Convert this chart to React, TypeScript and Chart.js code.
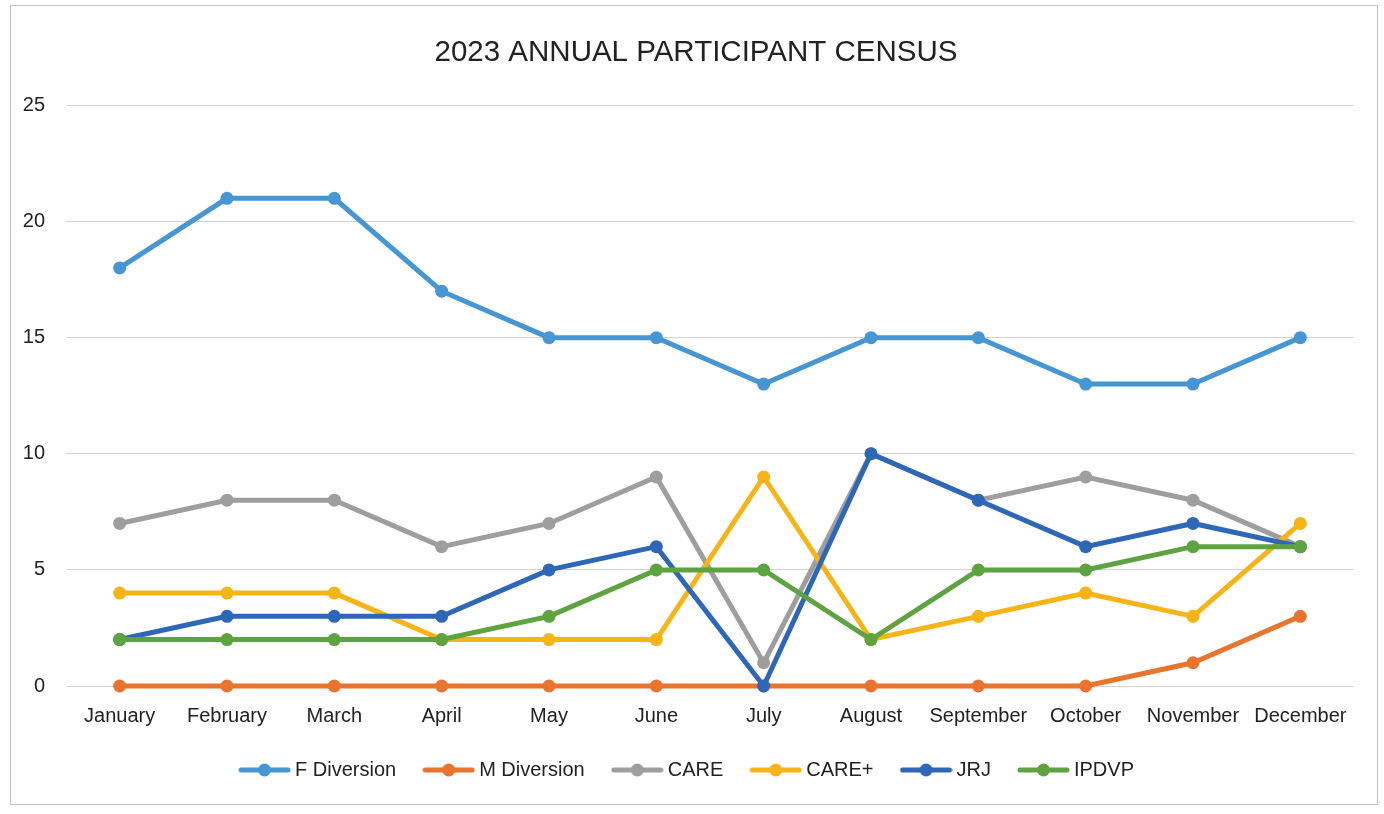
import React, { useEffect, useRef } from "react";
import { Chart, registerables } from "chart.js";

Chart.register(...registerables);

const months = ["January", "February", "March", "April", "May", "June", "July", "August", "September", "October", "November", "December"];
const fDiversion = [18, 21, 21, 17, 15, 15, 13, 15, 15, 13, 13, 15];
const mDiversion = [0, 0, 0, 0, 0, 0, 0, 0, 0, 0, 1, 3];
const care = [7, 8, 8, 6, 7, 9, 1, 10, 8, 9, 8, 6];
const carePlus = [4, 4, 4, 2, 2, 2, 9, 2, 3, 4, 3, 7];
const jrj = [2, 3, 3, 3, 5, 6, 0, 10, 8, 6, 7, 6];
const ipdvp = [2, 2, 2, 2, 3, 5, 5, 2, 5, 5, 6, 6];

const seriesNames = ["F Diversion", "M Diversion", "CARE", "CARE+", "JRJ", "IPDVP"];
const seriesData = [fDiversion, mDiversion, care, carePlus, jrj, ipdvp];
const seriesColors = ["#4596D3", "#E8742E", "#9E9E9E", "#F7B417", "#2F67B8", "#5DA440"];

const FONT = "'Liberation Sans', Arial, sans-serif";

function legendIcon(color: string): HTMLCanvasElement {
  const c = document.createElement("canvas");
  c.width = 53;
  c.height = 16;
  const ctx = c.getContext("2d")!;
  ctx.strokeStyle = color;
  ctx.lineWidth = 5;
  ctx.lineCap = "round";
  ctx.beginPath();
  ctx.moveTo(3, 8);
  ctx.lineTo(50, 8);
  ctx.stroke();
  ctx.fillStyle = color;
  ctx.beginPath();
  ctx.arc(26.5, 8, 6.5, 0, Math.PI * 2);
  ctx.fill();
  return c;
}

const shiftBlocks = {
  id: "shiftBlocks",
  afterLayout(chart: any) {
    if (chart.titleBlock) chart.titleBlock.left = 26;
    if (chart.legend) chart.legend.left += 12;
  },
};

export default function App() {
  const ref = useRef<HTMLCanvasElement | null>(null);
  useEffect(() => {
    if (!ref.current) return;
    const icons = seriesColors.map(legendIcon);
    const chart = new Chart(ref.current, {
      type: "line",
      data: {
        labels: months,
        datasets: seriesNames.map((name, i) => ({
          label: name,
          data: seriesData[i],
          borderColor: seriesColors[i],
          backgroundColor: seriesColors[i],
          borderWidth: 5,
          pointRadius: 6.5,
          pointHoverRadius: 6.5,
          pointBorderWidth: 0,
          tension: 0,
          fill: false,
          clip: 12,
          order: -i,
        })),
      },
      options: {
        animation: false,
        responsive: false,
        layout: { padding: { left: 0, right: 18, top: 0, bottom: 8 } },
        scales: {
          x: {
            offset: true,
            grid: { display: false, drawTicks: false },
            border: { display: false },
            ticks: { font: { family: FONT, size: 20 }, color: "#222", padding: 18, maxRotation: 0, autoSkip: false },
            afterFit: (s: any) => { s.height = 42; },
          },
          y: {
            min: 0,
            max: 25,
            ticks: { stepSize: 5, font: { family: FONT, size: 20 }, color: "#222", padding: 21 },
            grid: { color: "#d4d4d4", lineWidth: 1, drawTicks: false },
            border: { display: false },
            afterFit: (s: any) => { s.width = 54; },
          },
        },
        plugins: {
          title: {
            display: true,
            text: "2023 ANNUAL PARTICIPANT CENSUS",
            font: { family: FONT, size: 29.5, weight: "normal" },
            color: "#222",
            padding: { top: 27, bottom: 35 },
          },
          legend: {
            position: "bottom",
            labels: {
              usePointStyle: true,
              pointStyleWidth: 41,
              boxHeight: 16,
              padding: 32,
              font: { family: FONT, size: 20 },
              color: "#222",
              generateLabels: (ch: any) =>
                ch.data.datasets.map((d: any, i: number) => ({
                  text: d.label,
                  pointStyle: icons[i],
                  fillStyle: seriesColors[i],
                  strokeStyle: seriesColors[i],
                  lineWidth: 0,
                  hidden: false,
                  datasetIndex: i,
                  fontColor: "#222",
                })),
            },
          },
          tooltip: { enabled: false },
        },
      },
      plugins: [shiftBlocks],
    });
    return () => chart.destroy();
  }, []);

  return (
    <div style={{ position: "fixed", left: 0, top: 0, width: 1384, height: 814, background: "#fff" }}>
      <div style={{ position: "absolute", left: 10, top: 5, width: 1368, height: 800, border: "1px solid #c4c4c4", boxSizing: "border-box" }} />
      <canvas ref={ref} width={1360} height={790} style={{ position: "absolute", left: 12, top: 8, width: 1360, height: 790 }} />
    </div>
  );
}
